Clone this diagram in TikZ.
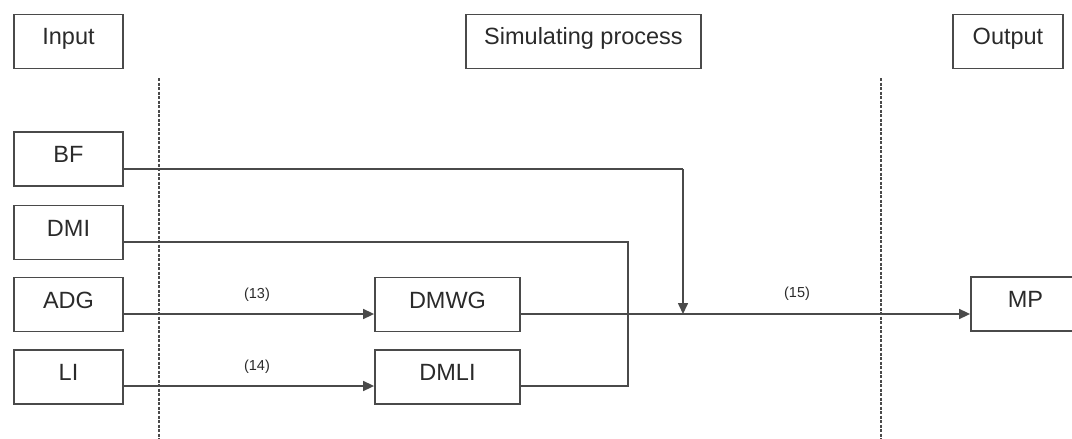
\documentclass[tikz,border=0pt]{standalone}
\usepackage{fontspec}
\setmainfont{Liberation Sans}
\usetikzlibrary{arrows.meta}
\definecolor{linec}{HTML}{4A4A4A}
\definecolor{textc}{HTML}{2A2A2A}
\tikzset{
  blk/.style={draw=linec, line width=1.8pt, rectangle, inner sep=0pt,
    minimum height=54pt, text=textc,
    font=\fontsize{23.5}{28}\selectfont, text height=17pt, text depth=10pt},
  wblk/.style={blk, minimum width=109pt},
  conn/.style={draw=linec, line width=1.6pt},
  arr/.style={conn, -{Triangle[length=11pt,width=10pt]}},
  sep/.style={draw=linec, line width=1.4pt, dash pattern=on 3pt off 1.5pt},
  lbl/.style={text=textc, font=\fontsize{14.5}{17}\selectfont, inner sep=0pt}
}
\begin{document}
\begin{tikzpicture}[x=1pt,y=-1pt]
\useasboundingbox (0,0) rectangle (1072,439);
\clip (0,0) rectangle (1072,439);
% header boxes
\node[wblk] (input) at (68.5,41.5) {Input};
\node[blk, minimum width=235pt] (sim) at (583.5,41.5) {Simulating process};
\node[blk, minimum width=110pt] (output) at (1008,41.5) {Output};
% separators
\coordinate (s1t) at (159,78);
\coordinate (s1b) at (159,439);
\coordinate (s2t) at (881,78);
\coordinate (s2b) at (881,439);
\draw[sep] (s1t) -- (s1b);
\draw[sep] (s2t) -- (s2b);
% inputs
\node[wblk] (bf) at (68.5,159) {BF};
\node[wblk] (dmi) at (68.5,232.5) {DMI};
\node[wblk] (adg) at (68.5,304.5) {ADG};
\node[wblk] (li) at (68.5,377) {LI};
% process
\node[blk, minimum width=145pt] (dmwg) at (447.5,304.5) {DMWG};
\node[blk, minimum width=145pt] (dmli) at (447.5,377) {DMLI};
% output
\node[wblk] (mp) at (1025.5,304) {MP};
% junction points
\coordinate (j) at (683,314);
\coordinate (bfc) at (683,169);
\coordinate (k1) at (628,242);
\coordinate (k2) at (628,386);
% connectors
\draw[conn] ([yshift=-10pt]bf.east) -- (bfc);
\draw[arr] (bfc) -- (j);
\draw[conn] ([yshift=-9.5pt]dmi.east) -- (k1) -- (k2) -- ([yshift=-9pt]dmli.east);
\draw[arr] ([yshift=-9.5pt]adg.east) -- ([yshift=-9.5pt]dmwg.west);
\draw[arr] ([yshift=-9pt]li.east) -- ([yshift=-9pt]dmli.west);
\draw[arr] ([yshift=-9.5pt]dmwg.east) -- ([yshift=-10pt]mp.west);
% labels
\node[lbl] (l13) at (257,295) {(13)};
\node[lbl] (l14) at (257,367) {(14)};
\node[lbl] (l15) at (797,294) {(15)};
\end{tikzpicture}
\end{document}
